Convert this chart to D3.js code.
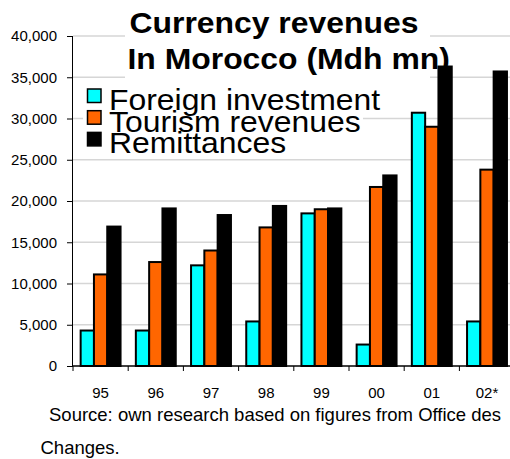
<!DOCTYPE html>
<html>
<head>
<meta charset="utf-8">
<script src="https://cdn.jsdelivr.net/npm/d3@7"></script>
<style>
  html, body { margin: 0; padding: 0; background: #fff; }
  svg { display: block; font-family: "Liberation Sans", Arial, sans-serif; }
</style>
</head>
<body>
<svg id="chart" width="510" height="459"></svg>
<script>
// Currency revenues in Morocco, millions of dirhams
const years = ["95", "96", "97", "98", "99", "00", "01", "02*"];
const foreignInvestment = [4300, 4300, 12200, 5400, 18500, 2600, 30700, 5400];
const tourismRevenues = [11100, 12600, 14000, 16800, 19000, 21700, 29000, 23800];
const remittances = [16900, 19100, 18300, 19400, 19100, 23100, 36300, 35700];
const seriesNames = ["Foreign investment", "Tourism revenues", "Remittances"];
const seriesColors = ["#00ffff", "#ff6600", "#000000"];
const yTicks = [0, 5000, 10000, 15000, 20000, 25000, 30000, 35000, 40000];
const titleLines = ["Currency revenues", "In Morocco (Mdh mn)"];
const sourceLines = ["Source: own research based on figures from Office des", "Changes."];

const seriesValues = [foreignInvestment, tourismRevenues, remittances];

const svg = d3.select("#chart");
const plotLeft = 73, plotRight = 514.6, plotTop = 36, plotBottom = 366;

const x = d3.scaleBand().domain(years).range([plotLeft, plotRight]).padding(0);
const inner = d3.scaleBand().domain(d3.range(3)).range([0, x.bandwidth()])
  .paddingInner(0).paddingOuter(0.575);
const y = d3.scaleLinear().domain([0, 40000]).range([plotBottom, plotTop]);

// horizontal gridlines
svg.append("g").selectAll("line")
  .data(yTicks.filter(d => d > 0))
  .join("line")
  .attr("x1", plotLeft).attr("x2", 510)
  .attr("y1", d => y(d)).attr("y2", d => y(d))
  .attr("stroke", "#d6d6d6").attr("stroke-width", 1.5);

// grouped bars
const groups = svg.append("g").selectAll("g")
  .data(years)
  .join("g")
  .attr("transform", d => `translate(${x(d)},0)`);

groups.selectAll("rect")
  .data((d, i) => seriesValues.map((vals, s) => ({ s, v: vals[i] })))
  .join("rect")
  .attr("x", d => inner(d.s))
  .attr("width", inner.bandwidth())
  .attr("y", d => y(d.v))
  .attr("height", d => y(0) - y(d.v))
  .attr("fill", d => seriesColors[d.s])
  .attr("stroke", "#000")
  .attr("stroke-width", 2);

// y axis
const yAxis = svg.append("g")
  .attr("transform", `translate(${plotLeft},0)`)
  .call(d3.axisLeft(y).tickValues(yTicks).tickSize(6).tickPadding(10)
    .tickFormat(d3.format(",")));
yAxis.select(".domain").attr("stroke", "#000").attr("d", `M-0.5,${plotTop}V${plotBottom}`);
yAxis.selectAll(".tick line").attr("stroke", "#000");
yAxis.selectAll(".tick text").attr("font-size", 15).attr("fill", "#000")
  .attr("font-family", "Liberation Sans, Arial, sans-serif");

// x axis: ticks at category boundaries
const xAxisG = svg.append("g").attr("transform", `translate(0,${plotBottom})`);
xAxisG.append("line").attr("x1", plotLeft).attr("x2", 510)
  .attr("stroke", "#000").attr("stroke-width", 1.5);
xAxisG.selectAll("line.tk")
  .data(years)
  .join("line").attr("class", "tk")
  .attr("x1", d => x(d)).attr("x2", d => x(d))
  .attr("y1", 0).attr("y2", 5)
  .attr("stroke", "#000");
xAxisG.selectAll("text")
  .data(years)
  .join("text")
  .attr("x", d => x(d) + x.bandwidth() / 2)
  .attr("y", 32)
  .attr("text-anchor", "middle")
  .attr("font-size", 15)
  .text(d => d);

// white panels behind title and legend
svg.append("rect").attr("x", 125).attr("y", 2).attr("width", 305).attr("height", 78).attr("fill", "#fff");
svg.append("rect").attr("x", 83).attr("y", 82).attr("width", 280).attr("height", 72).attr("fill", "#fff");

// title
const title = svg.append("g").attr("font-weight", "bold").attr("font-size", 29);
title.selectAll("text")
  .data(titleLines)
  .join("text")
  .attr("transform", (d, i) => `translate(${i === 0 ? 129.5 : 127.5},${i === 0 ? 33.3 : 69.3}) scale(1.1,1)`)
  .text(d => d);

// legend
const legend = svg.append("g");
const legendRows = legend.selectAll("g")
  .data(seriesNames)
  .join("g")
  .attr("transform", (d, i) => `translate(0,${110 + i * 21.7})`);
legendRows.append("rect")
  .attr("x", 87.5).attr("y", -21).attr("width", 13.5).attr("height", 13.5)
  .attr("fill", (d, i) => seriesColors[i])
  .attr("stroke", "#000").attr("stroke-width", 1.5);
legendRows.append("text")
  .attr("transform", "translate(109,0) scale(1.1,1)")
  .attr("font-size", 29)
  .text(d => d);

// source note
svg.append("g").selectAll("text")
  .data(sourceLines)
  .join("text")
  .attr("x", (d, i) => i === 0 ? 49 : 40.5)
  .attr("y", (d, i) => i === 0 ? 421 : 454.3)
  .attr("font-size", 18.5)
  .text(d => d);
</script>
</body>
</html>
